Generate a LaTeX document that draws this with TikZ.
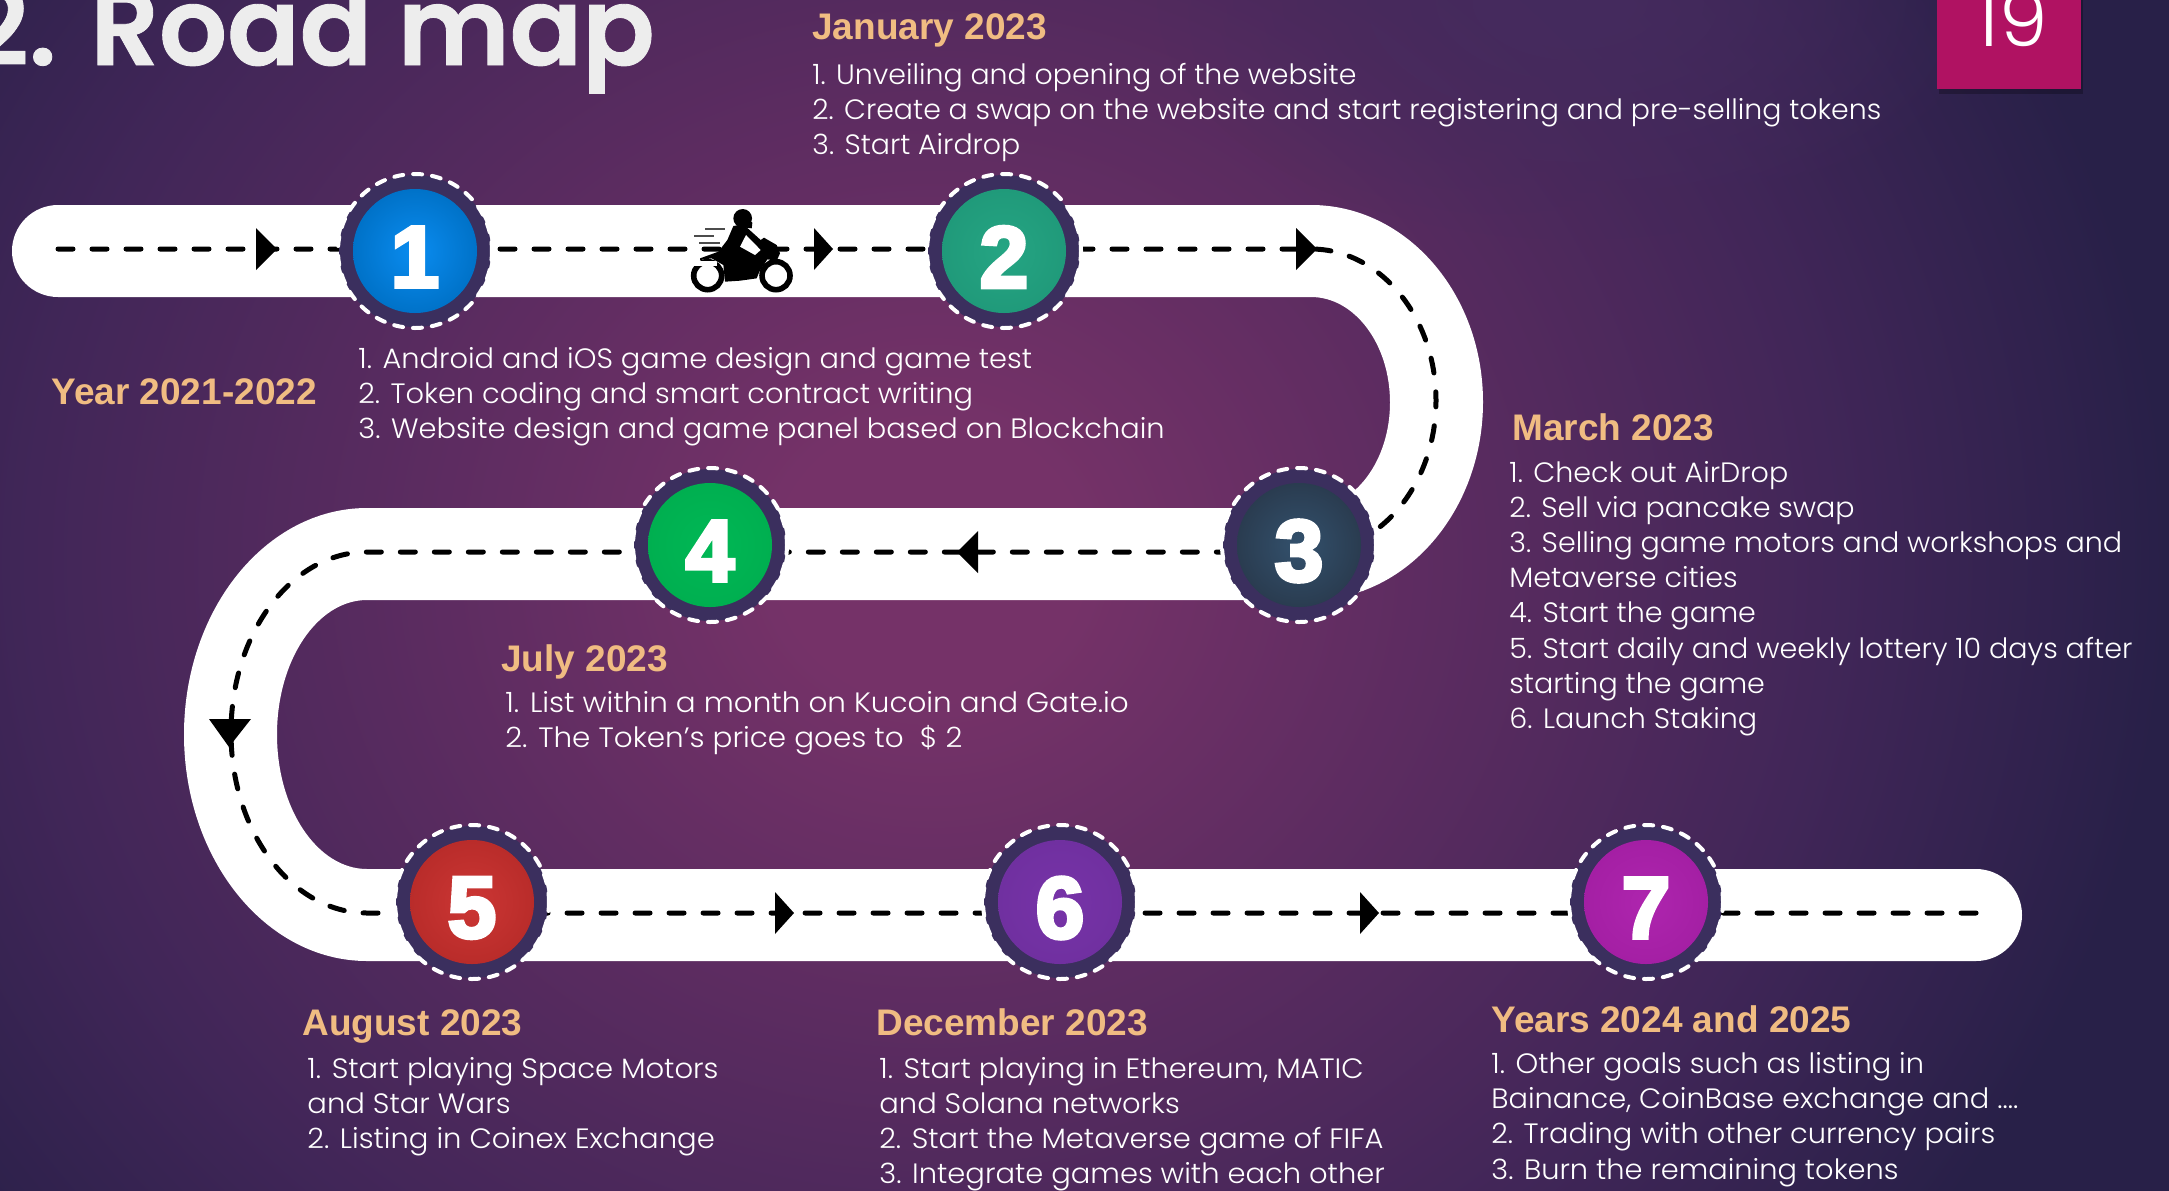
\documentclass[tikz,border=0pt]{standalone}
\usepackage{fontspec}
\usetikzlibrary{fadings}
\setmainfont{Poppins}
\newfontfamily\bodyfam{Poppins Light}[FakeStretch=1.02]
\newfontfamily\headfam{Liberation Sans}
\newfontfamily\digitfam{Liberation Sans}[FakeBold=4.5]
\newfontfamily\titlefam{Poppins SemiBold}[FakeStretch=0.99,FakeBold=0.8]
\definecolor{bgA}{HTML}{753268}
\definecolor{bgB}{HTML}{612D62}
\definecolor{bgC}{HTML}{412658}
\definecolor{bgD}{HTML}{282048}
\definecolor{glowc}{HTML}{452B5E}
\definecolor{headc}{HTML}{F0BC82}
\definecolor{ringc}{HTML}{3B2F5E}
\definecolor{pagec}{HTML}{B01262}
\definecolor{sAa}{HTML}{0072C8}\definecolor{sAb}{HTML}{0A8CF0}
\definecolor{sBa}{HTML}{209A7A}\definecolor{sBb}{HTML}{25A583}
\definecolor{sCa}{HTML}{2A3C50}\definecolor{sCb}{HTML}{33516D}
\definecolor{sDa}{HTML}{00AF50}\definecolor{sDb}{HTML}{00B855}
\definecolor{sEa}{HTML}{B92C2A}\definecolor{sEb}{HTML}{CC3634}
\definecolor{sFa}{HTML}{7030A0}\definecolor{sFb}{HTML}{7733A8}
\definecolor{sGa}{HTML}{A41FA4}\definecolor{sGb}{HTML}{AE25AE}
\pgfdeclareradialshading{bgshade}{\pgfpoint{0bp}{0bp}}{%
  color(0bp)=(bgA); color(2.1bp)=(bgA); color(6bp)=(bgB); color(12.5bp)=(bgC); color(17.2bp)=(bgD); color(50bp)=(bgD)}
\tikzfading[name=softglow,inner color=transparent!0,outer color=transparent!100]
\tikzset{
  bodytext/.style={anchor=base west,inner sep=0pt,text=white,font=\bodyfam\fontsize{14}{17.6}\selectfont},
  headtext/.style={anchor=base west,inner sep=0pt,text=headc,font=\headfam\bfseries\fontsize{18.5}{22}\selectfont},
  roadfill/.style={fill=white},
  roaddash/.style={draw=black,line width=2.5pt,line cap=round,dash pattern=on 7.5pt off 9.5pt},
  ringdash/.style={draw=white,line width=2pt,line cap=round,dash pattern=on 4.5pt off 5pt},
  ringfill/.style={fill=ringc},
  stopdisc/.style={circle,minimum size=62pt,inner sep=0pt},
  stopdigit/.style={inner sep=0pt,text=white,font=\digitfam\bfseries\fontsize{43.5}{44}\selectfont},
  flowtip/.style={fill=black},
}
\newcommand{\stopmark}[6]{%
  \fill[ringfill] (#2,#3) circle (76);
  \draw[ringdash] (#2,#3) circle (77);
  \node[stopdisc,inner color=#5,outer color=#4] (#1) at (#2,#3) {};
  \node[stopdigit] (#1d) at (#2,#3+6) {#6};
}
\newcommand{\listlines}[2]{\scalebox{#1}[1]{\begin{tabular}[t]{@{}l@{}}#2\end{tabular}}}
\begin{document}
\begin{tikzpicture}[x=0.5pt,y=-0.5pt]
\useasboundingbox (0,0) rectangle (2169,1190);
\begin{scope}
  \clip (0,0) rectangle (2169,1190);
  \shade[shading=bgshade] (930,560) ellipse (1800 and 1650);
  \fill[glowc,path fading=softglow] (1577,0) ellipse (420 and 240);
  % title and page number, cut by the page edge
  \node[anchor=base west,inner sep=0pt,text=black!7,font=\titlefam\fontsize{54}{54}\selectfont] (title) at (-33,65) {2. Road map};
  \fill[black,opacity=0.25] (1939,0) rectangle (2083,94);
  \fill[pagec] (1937,0) rectangle (2081,89);
  \node[anchor=base,inner sep=0pt,text=white,font=\bodyfam\fontsize{38}{38}\selectfont] (page) at (2012,46) {19};
\end{scope}

% road
\fill[roadfill] (58,205) -- (1311,205)
  .. controls (1406,205) and (1483,293) .. (1483,402)
  .. controls (1483,511) and (1406,600) .. (1311,600)
  -- (367,600)
  .. controls (317.3,600) and (277,660.2) .. (277,734.5)
  .. controls (277,808.8) and (317.3,869) .. (367,869)
  -- (1976,869)
  .. controls (2001.4,869) and (2022,889.6) .. (2022,915)
  .. controls (2022,940.4) and (2001.4,961) .. (1976,961)
  -- (367,961)
  .. controls (266,961) and (184,859.5) .. (184,734.5)
  .. controls (184,609.5) and (266,508) .. (367,508)
  -- (1311,508)
  .. controls (1354.6,508) and (1390,460.7) .. (1390,402.5)
  .. controls (1390,344) and (1354.6,297) .. (1311,297)
  -- (58,297)
  .. controls (32.6,297) and (12,276.4) .. (12,251)
  .. controls (12,225.6) and (32.6,205) .. (58,205) -- cycle;

% centre line
\draw[roaddash] (58,249) -- (1311,249)
  .. controls (1380,249) and (1436,316.8) .. (1436,400.5)
  .. controls (1436,484) and (1380,552) .. (1311,552)
  -- (367,552)
  .. controls (292,552) and (231,632.8) .. (231,732.5)
  .. controls (231,832.2) and (292,913) .. (367,913)
  -- (1978,913);

% direction marks
\fill[flowtip] (256,228) -- (277,249) -- (256,270) -- cycle;
\fill[flowtip] (814,228) -- (833,249) -- (814,270) -- cycle;
\fill[flowtip] (1296,228) -- (1317,249) -- (1296,270) -- cycle;
\fill[flowtip] (978,531) -- (957,552) -- (978,573) -- cycle;
\fill[flowtip] (209,719) -- (229,747) -- (251,719) -- cycle;
\fill[flowtip] (775,892) -- (794,913) -- (775,934) -- cycle;
\fill[flowtip] (1360,892) -- (1379,913) -- (1360,934) -- cycle;

% motorcycle
\begin{scope}[shift={(640,190)},x=0.1667pt,y=-0.1667pt]
  \draw[black,line width=2.8pt,fill=white] (203,257) circle (42);
  \draw[black,line width=2.8pt,fill=white] (408,257) circle (42);
  \fill[white] (150,212) rectangle (232,228);
  \fill[black] (180,205) -- (235,185) -- (262,150) -- (280,108) -- (310,103) -- (362,150) -- (372,143) -- (410,165) -- (420,190) -- (410,212) -- (382,208) -- (358,245) -- (350,265) -- (300,272) -- (255,275) -- (250,225) -- (215,205) -- (180,210) -- cycle;
  \fill[white] (300,170) -- (318,135) -- (362,180) -- (345,195) -- cycle;
  \fill[black] (308,85) circle (28);
  \fill[black] (320,85) -- (337,98) -- (335,115) -- (310,112) -- cycle;
  \draw[black!70,line width=1pt] (195,117) -- (255,117) (162,137) -- (222,137) (178,160) -- (240,160);
\end{scope}

% stops
\stopmark{s1}{415}{251}{sAa}{sAb}{1}
\stopmark{s2}{1004}{251}{sBa}{sBb}{2}
\stopmark{s3}{1299}{545}{sCa}{sCb}{3}
\stopmark{s4}{710}{545}{sDa}{sDb}{4}
\stopmark{s5}{472}{902}{sEa}{sEb}{5}
\stopmark{s6}{1060}{902}{sFa}{sFb}{6}
\stopmark{s7}{1646}{902}{sGa}{sGb}{7}

% headings
\node[headtext] (h2) at (812,39) {January 2023};
\node[headtext] (h1) at (51,404) {Year 2021-2022};
\node[headtext] (h3) at (1512,440) {March 2023};
\node[headtext] (h4) at (501,671) {July 2023};
\node[headtext] (h5) at (302,1035) {August 2023};
\node[headtext] (h6) at (876,1035) {December 2023};
\node[headtext] (h7) at (1491,1032) {Years 2024 and 2025};

% lists
\node[bodytext] (t2) at (812,84) {\listlines{0.994}{1. Unveiling and opening of the website\\2. Create a swap on the website and start registering and pre-selling tokens\\3. Start Airdrop}};
\node[bodytext] (t1) at (358,368) {\listlines{1.01}{1. Android and iOS game design and game test\\2. Token coding and smart contract writing\\3. Website design and game panel based on Blockchain}};
\node[bodytext] (t3) at (1509,482) {\listlines{1.0}{1. Check out AirDrop\\2. Sell via pancake swap\\3. Selling game motors and workshops and\\Metaverse cities\\4. Start the game\\5. Start daily and weekly lottery 10 days after\\starting the game\\6. Launch Staking}};
\node[bodytext] (t4) at (505,712) {\listlines{1.03}{1. List within a month on Kucoin and Gate.io\\2. The Token’s price goes to\ \ \$ 2}};
\node[bodytext] (t5) at (307,1078) {\listlines{1.017}{1. Start playing Space Motors\\and Star Wars\\2. Listing in Coinex Exchange}};
\node[bodytext] (t6) at (879,1078) {\listlines{1.014}{1. Start playing in Ethereum, MATIC\\and Solana networks\\2. Start the Metaverse game of FIFA\\3. Integrate games with each other}};
\node[bodytext] (t7) at (1491,1073.5) {\listlines{1.01}{1. Other goals such as listing in\\Bainance, CoinBase exchange and ....\\2. Trading with other currency pairs\\3. Burn the remaining tokens}};
\end{tikzpicture}
\end{document}
